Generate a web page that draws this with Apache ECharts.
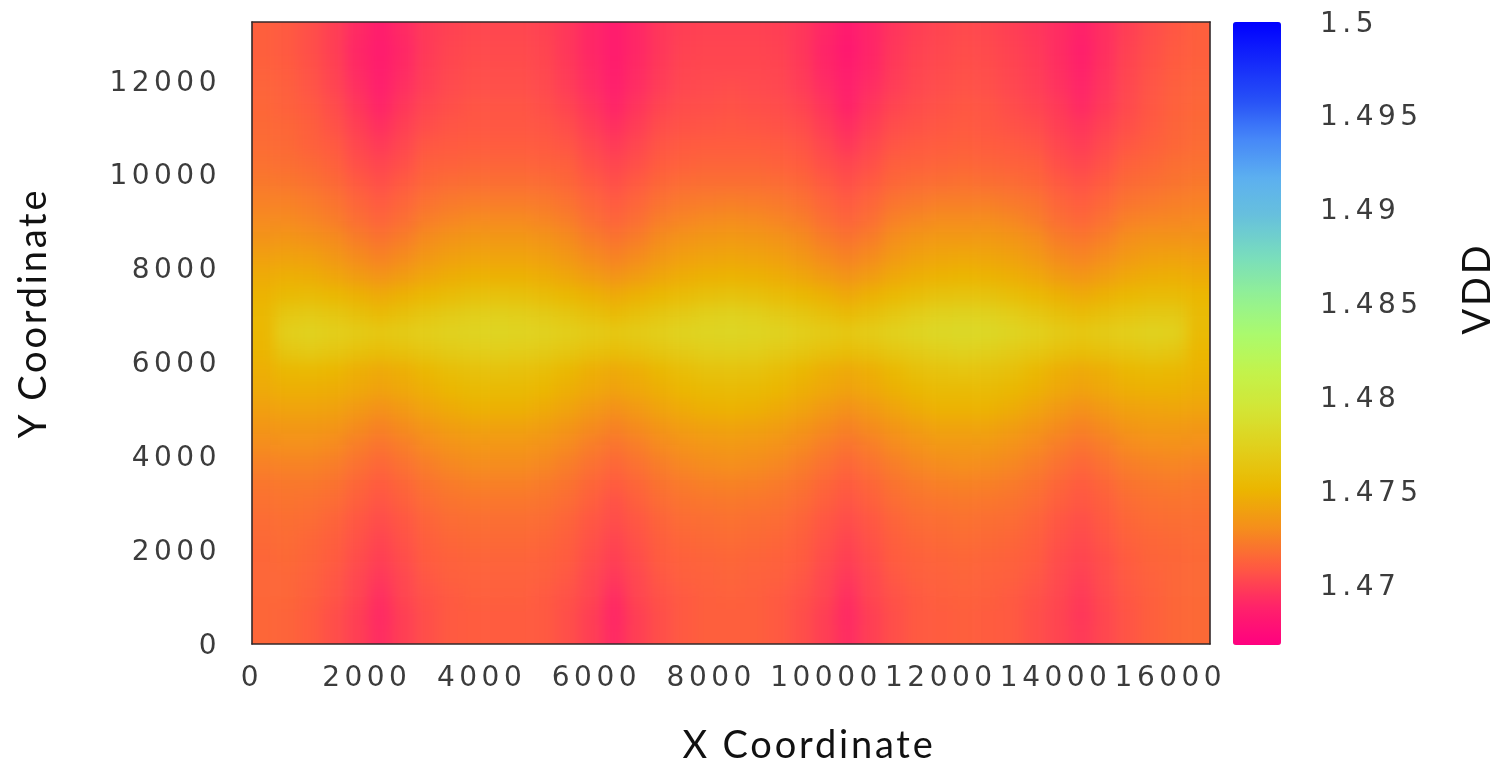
<!DOCTYPE html>
<html>
<head>
<meta charset="utf-8">
<title>VDD map</title>
<script src="https://cdn.jsdelivr.net/npm/echarts@6/dist/echarts.min.js"></script>
<style>
html,body{margin:0;padding:0;background:#fff}
#stack{position:relative;width:1503px;height:761px;overflow:hidden}
#heat,#chart{position:absolute;left:0;top:0;width:1503px;height:761px}
#heat{filter:blur(7px);clip-path:inset(22px 293px 117px 252px)}
#chart{filter:blur(0.6px)}
#chart text[style*="DejaVu"]{letter-spacing:4.5px}
#chart text[style*="Lato"]{letter-spacing:2.8px}
</style>
</head>
<body>
<div id="stack"><div id="heat"></div><div id="chart"></div></div>
<script>
const xCells = [200,600,1000,1400,1800,2200,2600,3000,3400,3800,4200,4600,5000,5400,5800,6200,6600,7000,7400,7800,8200,8600,9000,9400,9800,10200,10600,11000,11400,11800,12200,12600,13000,13400,13800,14200,14600,15000,15400,15800,16200];
const yCells = [13000,12600,12200,11800,11400,11000,10600,10200,9800,9400,9000,8600,8200,7800,7400,7000,6600,6200,5800,5400,5000,4600,4200,3800,3400,3000,2600,2200,1800,1400,1000,600,200];
const xTicks = [0,2000,4000,6000,8000,10000,12000,14000,16000];
const yTicks = [0,2000,4000,6000,8000,10000,12000];
const scaleTicks = [1.47,1.475,1.48,1.485,1.49,1.495,1.5];
const vddBase = 1.46;
const vddUnit = 0.0001;
// VDD readings, top row first, in units of vddUnit above vddBase
const vddRows = [
[112,110,106,100,92,86,92,98,101,103,103,103,101,97,91,85,91,97,100,101,101,101,100,97,91,84,90,96,100,102,104,103,100,97,93,88,94,100,105,109,112],
[112,110,106,100,91,85,91,98,102,104,104,104,102,97,91,85,91,97,101,102,102,102,101,97,90,83,90,97,101,103,105,104,101,98,93,87,94,101,106,110,112],
[113,111,107,101,92,86,92,99,103,105,105,105,103,98,92,86,92,98,102,103,103,103,102,98,91,85,91,98,102,104,106,105,102,99,94,88,95,102,107,111,113],
[114,112,108,102,94,87,94,100,104,106,106,106,104,99,93,87,93,99,103,104,105,104,103,99,93,87,93,99,103,105,107,106,103,100,95,90,96,103,108,112,114],
[115,113,110,105,97,90,97,103,106,108,108,108,106,102,96,90,96,102,105,106,107,106,105,102,96,89,96,102,105,107,109,108,105,102,98,92,98,104,109,113,115],
[116,115,112,107,100,94,100,105,108,109,109,109,108,105,99,94,99,105,107,108,109,108,107,105,99,93,99,105,107,109,110,109,107,105,100,96,101,106,110,114,116],
[117,116,113,110,103,98,103,109,110,111,111,111,110,108,103,98,103,108,110,111,111,111,110,108,103,97,103,108,110,111,112,111,110,108,103,99,104,109,112,115,117],
[119,118,116,113,106,102,106,112,113,114,114,114,113,112,106,102,106,111,113,114,114,114,113,111,106,102,106,112,113,114,115,114,113,112,106,103,107,113,115,118,119],
[122,121,119,116,110,106,110,115,117,118,118,118,117,115,110,106,110,115,117,118,118,118,117,115,110,106,110,115,117,118,119,118,117,115,110,107,111,116,118,120,122],
[125,125,123,120,114,110,114,119,122,123,123,123,122,119,114,110,114,119,122,123,124,123,122,119,114,110,114,120,122,124,124,124,122,120,114,111,115,120,122,124,125],
[129,129,127,124,118,114,118,124,127,129,129,129,127,124,118,114,118,124,127,129,130,129,127,124,118,114,118,125,128,130,130,130,128,124,118,115,119,125,127,128,129],
[134,135,133,130,124,120,124,130,134,136,136,136,134,130,124,120,124,130,134,136,137,136,134,130,124,120,124,131,135,137,137,137,135,131,124,121,125,131,134,134,134],
[140,141,140,136,130,126,130,136,140,142,142,142,140,136,130,126,130,136,140,142,143,142,140,136,130,126,130,137,141,143,144,143,141,137,130,127,131,137,140,141,140],
[146,148,147,143,138,134,138,143,147,149,149,149,147,143,138,134,138,143,147,149,150,149,147,143,138,134,138,144,148,150,151,150,148,144,138,135,139,144,147,148,146],
[150,155,156,153,149,145,149,153,157,160,161,160,157,153,149,145,149,153,157,160,162,160,157,153,149,144,149,154,158,162,163,162,158,154,149,145,149,153,156,156,152],
[153,166,168,165,160,156,160,165,169,172,173,172,169,165,160,156,160,165,169,173,175,173,169,165,160,156,160,166,171,175,176,175,171,166,160,157,160,164,167,167,156],
[152,172,175,172,169,166,169,172,175,177,178,177,175,172,169,166,169,172,176,178,179,178,176,172,169,166,170,174,178,181,182,181,178,174,169,166,169,172,175,174,155],
[151,165,168,165,161,158,161,165,169,171,172,171,169,165,161,158,161,165,169,172,173,172,169,165,161,158,161,166,170,173,175,173,170,166,161,158,161,164,167,165,152],
[148,153,154,152,148,145,148,153,158,161,162,161,158,153,148,145,148,153,158,162,163,162,158,153,148,145,148,154,160,163,164,163,160,154,148,145,148,153,155,154,150],
[145,148,148,147,144,141,144,148,152,155,155,155,152,148,144,141,144,148,152,155,156,155,152,148,144,141,144,149,153,156,156,156,153,149,144,141,144,148,149,149,147],
[140,142,142,141,137,133,137,142,146,149,149,149,146,142,137,133,137,142,146,149,150,149,146,142,137,133,137,142,147,150,150,150,147,142,137,133,137,141,142,143,142],
[135,136,136,135,130,126,130,135,139,141,141,141,139,135,130,126,130,135,139,141,142,141,139,135,130,126,130,135,139,142,142,142,139,135,130,126,130,135,137,137,136],
[130,131,131,129,124,120,124,129,133,135,135,135,133,129,124,120,124,129,133,135,136,135,133,129,124,120,124,129,133,136,136,136,133,129,124,120,124,129,131,132,131],
[125,126,126,124,119,115,119,124,128,130,130,130,128,124,119,115,119,124,128,130,131,130,128,124,119,115,119,124,128,130,131,130,128,124,119,115,119,124,126,127,126],
[121,122,122,120,115,111,115,120,123,125,125,125,123,120,115,111,115,120,123,125,126,125,123,120,115,111,115,120,123,125,126,125,123,120,115,111,115,120,122,123,122],
[119,120,119,117,112,108,112,117,120,121,121,121,120,117,112,107,112,117,120,121,122,121,120,117,112,108,112,117,120,121,122,121,120,117,112,109,112,117,119,120,120],
[117,118,117,114,109,105,109,114,117,118,118,118,117,114,109,105,109,114,117,118,119,118,117,114,109,105,109,114,117,118,119,118,117,114,109,106,110,115,117,118,118],
[116,117,115,112,107,102,107,112,115,116,116,116,115,112,107,102,107,112,115,116,117,116,115,112,107,102,107,112,115,116,117,116,115,112,107,104,108,113,115,116,117],
[115,116,114,111,105,100,105,111,113,114,114,114,113,111,105,100,105,111,113,114,115,114,113,111,105,100,105,111,113,114,115,114,113,111,105,102,106,111,114,115,116],
[115,115,113,109,103,97,103,109,112,113,113,113,112,109,103,97,103,109,112,113,114,113,112,109,103,97,103,109,112,113,114,113,112,109,104,100,105,110,113,115,116],
[115,115,112,108,102,94,102,107,110,112,112,112,110,107,102,93,102,107,110,112,113,112,110,107,102,94,102,107,110,112,113,112,110,107,103,98,104,109,112,115,116],
[115,114,111,106,100,92,100,106,110,111,111,111,110,106,100,91,100,106,110,112,112,112,110,106,100,92,100,106,110,111,112,111,110,106,102,97,103,108,112,115,116],
[115,114,111,106,100,93,100,106,110,111,111,111,110,106,100,92,100,106,110,112,112,112,110,106,100,93,100,106,110,111,112,111,110,106,102,98,103,108,112,115,116]
];
const scaleColors = ['#ff0080','#ff2369','#ff5a41','#f58e1c','#ebb600','#e2ce1a','#d4e434','#c3f34b','#aafa6e','#91f096','#78dcbe','#67c1dc','#5cafF0','#4687f8','#2650f7','#1428fa','#0000ff'];
const scaleMin = 1.46686, scaleMax = 1.5;
const xMax = 16690, yMax = 13260;

// The heat layer is softened with a blur and clipped to the plot; one hidden
// repeat of each edge cell keeps that blur from fading at the plot border.
const paddedRows = [vddRows[0], ...vddRows, vddRows[vddRows.length - 1]]
  .map(row => [row[0], ...row, row[row.length - 1]]);
const heatData = [];
paddedRows.forEach((row, r) => row.forEach((n, c) => {
  heatData.push([c, paddedRows.length - 1 - r, +(vddBase + n * vddUnit).toFixed(4)]);
}));

const heat = echarts.init(document.getElementById('heat'), null, {width:1503, height:761});
heat.setOption({
  animation:false,
  grid:{left:228.63, top:3.15, width:1004.74, height:659.7, outerBoundsMode:'none'},
  xAxis:{type:'category', data:[-200, ...xCells, 16600], show:false},
  yAxis:{type:'category', data:[-200, ...yCells.slice().reverse(), 13400], show:false},
  visualMap:{show:false, type:'continuous', min:scaleMin, max:scaleMax, inRange:{color:scaleColors}},
  series:[{type:'heatmap', data:heatData, silent:true, progressive:0, itemStyle:{borderWidth:0}}]
});

const tickFont = {fontFamily:'DejaVu Sans', fontSize:28, color:'#3c3c3c'};
const nameFont = {fontFamily:'Lato', fontSize:38, color:'#111'};
const frame = {show:true, onZero:false, lineStyle:{color:'#33292a', width:1.6}};
const plain = v => String(v);

const chart = echarts.init(document.getElementById('chart'), null, {renderer:'svg', width:1503, height:761});
chart.setOption({
  animation:false,
  backgroundColor:'transparent',
  grid:[
    {left:252, top:22, width:958, height:622, outerBoundsMode:'none'},
    {left:1233, top:22, width:48, height:623, outerBoundsMode:'none'}
  ],
  xAxis:[
    {type:'value', gridIndex:0, position:'bottom', min:0, max:xMax,
      name:'X Coordinate', nameLocation:'middle', nameGap:80,
      nameTextStyle:Object.assign({padding:[0,0,0,156]}, nameFont),
      axisLine:frame, axisTick:{show:false}, splitLine:{show:false},
      axisLabel:Object.assign({customValues:xTicks, formatter:plain, margin:18, hideOverlap:false}, tickFont)},
    {type:'value', gridIndex:0, position:'top', min:0, max:xMax,
      axisLine:frame, axisTick:{show:false}, splitLine:{show:false}, axisLabel:{show:false}},
    {type:'value', gridIndex:1, min:0, max:1, show:false}
  ],
  yAxis:[
    {type:'value', gridIndex:0, position:'left', min:0, max:yMax,
      name:'Y Coordinate', nameLocation:'middle', nameGap:202,
      nameTextStyle:Object.assign({padding:[0,0,0,40]}, nameFont),
      axisLine:frame, axisTick:{show:false}, splitLine:{show:false},
      axisLabel:Object.assign({customValues:yTicks, formatter:plain, margin:31, hideOverlap:false}, tickFont)},
    {type:'value', gridIndex:0, position:'right', min:0, max:yMax,
      axisLine:frame, axisTick:{show:false}, splitLine:{show:false}, axisLabel:{show:false}},
    {type:'value', gridIndex:1, position:'right', min:scaleMin, max:scaleMax,
      name:'VDD', nameLocation:'middle', nameGap:175, nameRotate:90,
      nameTextStyle:Object.assign({padding:[0,0,0,90]}, nameFont),
      axisLine:{show:false}, axisTick:{show:false}, splitLine:{show:false},
      axisLabel:Object.assign({customValues:scaleTicks, formatter:plain, margin:39, hideOverlap:false, align:'left'}, tickFont)}
  ],
  visualMap:{
    type:'continuous', min:scaleMin, max:scaleMax,
    left:1233, top:22, itemWidth:48, itemHeight:623, padding:0, borderRadius:0,
    calculable:false, hoverLink:false,
    inRange:{color:scaleColors}
  }
});
</script>
</body>
</html>
